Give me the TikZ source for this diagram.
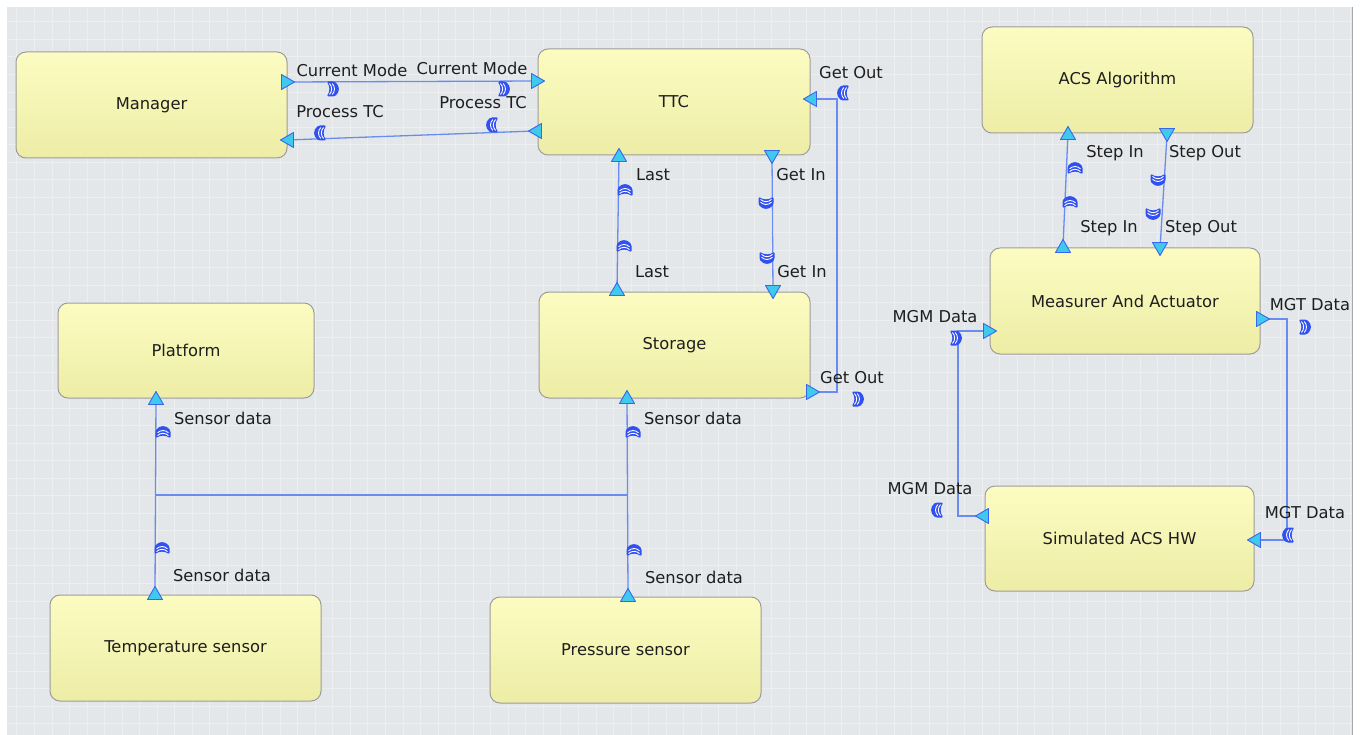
\documentclass[tikz,border=0pt]{standalone}
\usepackage{fontspec}
\setmainfont{DejaVu Sans}
\definecolor{bggray}{HTML}{E4E7EA}
\definecolor{gridc}{HTML}{ECEEF0}
\definecolor{edgegray}{HTML}{A8A8A8}
\definecolor{boxtop}{HTML}{FCFCC2}
\definecolor{boxbot}{HTML}{EDEDA6}
\definecolor{boxborder}{HTML}{9C9C9C}
\definecolor{wireblue}{HTML}{6A8CF0}
\definecolor{portcyan}{HTML}{3FC9EC}
\definecolor{portblue}{HTML}{3A66EE}
\definecolor{iconblue}{HTML}{3050F0}
\definecolor{txt}{HTML}{1E1E1E}
\tikzset{
  box/.style={draw=boxborder, line width=1pt, rounded corners=10pt,
    top color=boxtop, bottom color=boxbot, text=txt,
    font=\fontsize{16.3}{19}\selectfont, inner sep=0pt},
  wire/.style={draw=wireblue, line width=1.3pt},
  lbl/.style={font=\fontsize{16.3}{19}\selectfont, text=txt, inner sep=0pt},
  port/.pic={\path[fill=portcyan, draw=portblue, line width=0.9pt, line join=round]
      (6.5,0) -- (-6.5,-7.5) -- (-6.5,7.5) -- cycle;},
  ifc/.pic={\path[fill=iconblue, rounded corners=1.5pt]
      (-6.5,-7.5) .. controls (-3,-3) and (-3,3) .. (-6.5,7.5) -- (1.5,7.5)
      .. controls (7,3) and (7,-3) .. (1.5,-7.5) -- cycle;
    \draw[white, line width=0.9pt] (-3.6,-5.5) .. controls (-0.6,-2.5) and (-0.6,2.5) .. (-3.6,5.5);
    \draw[white, line width=0.9pt] (-0.8,-5.5) .. controls (2.2,-2.5) and (2.2,2.5) .. (-0.8,5.5);}
}
\begin{document}
\begin{tikzpicture}[x=1pt,y=-1pt]
\useasboundingbox (0,0) rectangle (1362,735);
\fill[white] (0,0) rectangle (1362,735);
\fill[bggray] (7,7) rectangle (1352,735);
\foreach \i in {0,...,76} {\draw[gridc, line width=0.6pt] ({16.7+17.55*\i},7) -- ({16.7+17.55*\i},735);}
\foreach \j in {0,...,40} {\draw[gridc, line width=0.6pt] (7,{21.7+17.55*\j}) -- (1352,{21.7+17.55*\j});}
\draw[edgegray, line width=1pt] (1352.5,7) -- (1352.5,735);

% boxes
\node[box, minimum width=271pt, minimum height=106pt] (mgr) at (151.5,105) {Manager};
\node[box, minimum width=272pt, minimum height=106pt] (ttc) at (674,102) {TTC};
\node[box, minimum width=271pt, minimum height=106pt] (acs) at (1117.5,80) {ACS Algorithm};
\node[box, minimum width=270pt, minimum height=106pt] (mea) at (1125,301) {Measurer And Actuator};
\node[box, minimum width=256pt, minimum height=95pt] (plat) at (186,350.5) {Platform};
\node[box, minimum width=271pt, minimum height=106pt] (sto) at (674.5,345) {Storage};
\node[box, minimum width=269pt, minimum height=105pt] (sim) at (1119.5,538.5) {Simulated ACS HW};
\node[box, minimum width=271pt, minimum height=106pt] (temp) at (185.5,648) {Temperature sensor};
\node[box, minimum width=271pt, minimum height=106pt] (pres) at (625.5,650) {Pressure sensor};

% port coordinates
\coordinate (pMgrCM) at (288,82);   \coordinate (pTtcCM) at (538,81);
\coordinate (pTtcPT) at (535,131);  \coordinate (pMgrPT) at (287,140);
\coordinate (pStoGO) at (813,392);  \coordinate (cGO1) at (837,392);
\coordinate (cGO2) at (837,99);     \coordinate (pTtcGO) at (810,99);
\coordinate (pTtcL) at (619,155);   \coordinate (pStoL) at (617,289);
\coordinate (pTtcGI) at (772,157);  \coordinate (pStoGI) at (773,292);
\coordinate (pPlat) at (156,398);   \coordinate (pTemp) at (155,593);
\coordinate (pStoS) at (627,397);   \coordinate (pPres) at (628,595);
\coordinate (cJ1) at (156,495);     \coordinate (cJ2) at (627.5,495);
\coordinate (pMeaSI) at (1063,246); \coordinate (pAcsSI) at (1068,133);
\coordinate (pAcsSO) at (1167,135); \coordinate (pMeaSO) at (1160,249);
\coordinate (pSimMGM) at (982,516); \coordinate (cM1) at (958,516);
\coordinate (cM2) at (958,331);     \coordinate (pMeaMGM) at (990,331);
\coordinate (pMeaMGT) at (1263,319); \coordinate (cT1) at (1287,319);
\coordinate (cT2) at (1287,540);    \coordinate (pSimMGT) at (1254,540);

% wires
\draw[wire] (pMgrCM) -- (pTtcCM);
\draw[wire] (pTtcPT) -- (pMgrPT);
\draw[wire] (pStoGO) -- (cGO1) -- (cGO2) -- (pTtcGO);
\draw[wire] (pStoL) -- (pTtcL);
\draw[wire] (pTtcGI) -- (pStoGI);
\draw[wire] (pTemp) -- (pPlat);
\draw[wire] (pPres) -- (pStoS);
\draw[wire] (cJ1) -- (cJ2);
\draw[wire] (pMeaSI) -- (pAcsSI);
\draw[wire] (pAcsSO) -- (pMeaSO);
\draw[wire] (pSimMGM) -- (cM1) -- (cM2) -- (pMeaMGM);
\draw[wire] (pMeaMGT) -- (cT1) -- (cT2) -- (pSimMGT);

% ports
\pic at (pMgrCM) {port}; \pic at (pTtcCM) {port};
\pic[rotate=180] at (pTtcPT) {port}; \pic[rotate=180] at (pMgrPT) {port};
\pic at (pStoGO) {port}; \pic[rotate=180] at (pTtcGO) {port};
\pic[rotate=90] at (pTtcL) {port}; \pic[rotate=90] at (pStoL) {port};
\pic[rotate=-90] at (pTtcGI) {port}; \pic[rotate=-90] at (pStoGI) {port};
\pic[rotate=90] at (pPlat) {port}; \pic[rotate=90] at (pTemp) {port};
\pic[rotate=90] at (pStoS) {port}; \pic[rotate=90] at (pPres) {port};
\pic[rotate=90] at (pMeaSI) {port}; \pic[rotate=90] at (pAcsSI) {port};
\pic[rotate=-90] at (pAcsSO) {port}; \pic[rotate=-90] at (pMeaSO) {port};
\pic[rotate=180] at (pSimMGM) {port}; \pic at (pMeaMGM) {port};
\pic at (pMeaMGT) {port}; \pic[rotate=180] at (pSimMGT) {port};

% interface icons
\pic at (333,89) {ifc}; \pic at (504,89) {ifc};
\pic[rotate=180] at (320,133) {ifc}; \pic[rotate=180] at (492,125) {ifc};
\pic[rotate=180] at (843,93) {ifc}; \pic at (858,399) {ifc};
\pic[rotate=90] at (625,190) {ifc}; \pic[rotate=90] at (624,246) {ifc};
\pic[rotate=-90] at (766,203) {ifc}; \pic[rotate=-90] at (767,258) {ifc};
\pic[rotate=90] at (163,432) {ifc}; \pic[rotate=90] at (162,548) {ifc};
\pic[rotate=90] at (633,432) {ifc}; \pic[rotate=90] at (634,550) {ifc};
\pic[rotate=90] at (1075,168) {ifc}; \pic[rotate=90] at (1070,202) {ifc};
\pic[rotate=-90] at (1158,180) {ifc}; \pic[rotate=-90] at (1153,214) {ifc};
\pic at (956,338) {ifc}; \pic[rotate=180] at (937,510) {ifc};
\pic at (1305,327) {ifc}; \pic[rotate=180] at (1288,535) {ifc};

% labels
\node[lbl] (l1) at (352,70) {Current Mode};
\node[lbl] (l2) at (472,68) {Current Mode};
\node[lbl] (l3) at (340,112) {Process TC};
\node[lbl] (l4) at (483,103) {Process TC};
\node[lbl] (l5) at (851,73) {Get Out};
\node[lbl] (l6) at (852,378) {Get Out};
\node[lbl] (l7) at (653,175) {Last};
\node[lbl] (l8) at (652,272) {Last};
\node[lbl] (l9) at (801,175) {Get In};
\node[lbl] (l10) at (802,272) {Get In};
\node[lbl] (l11) at (223,418) {Sensor data};
\node[lbl] (l12) at (222,575) {Sensor data};
\node[lbl] (l13) at (693,418) {Sensor data};
\node[lbl] (l14) at (694,577) {Sensor data};
\node[lbl] (l15) at (1115,153) {Step In};
\node[lbl] (l16) at (1109,228) {Step In};
\node[lbl] (l17) at (1205,153) {Step Out};
\node[lbl] (l18) at (1201,228) {Step Out};
\node[lbl] (l19) at (935,317) {MGM Data};
\node[lbl] (l20) at (930,489) {MGM Data};
\node[lbl] (l21) at (1310,305) {MGT Data};
\node[lbl] (l22) at (1305,513) {MGT Data};
\end{tikzpicture}
\end{document}
